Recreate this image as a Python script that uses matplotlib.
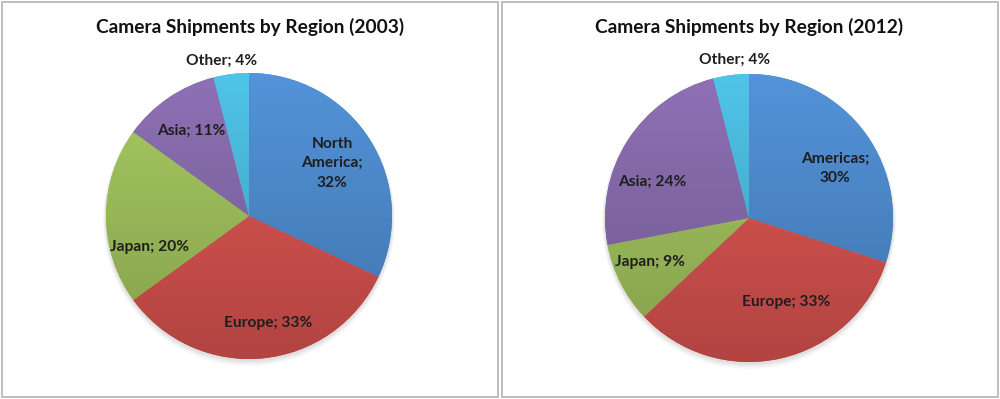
import matplotlib
matplotlib.use("Agg")
import matplotlib.pyplot as plt
import matplotlib.colors as mcolors
from matplotlib.patches import Rectangle
import numpy as np

plt.rcParams['font.family'] = ['Lato', 'DejaVu Sans']

# data
labels_2003 = ['North\nAmerica;\n32%', 'Europe; 33%', 'Japan; 20%', 'Asia; 11%', 'Other; 4%']
values_2003 = [32, 33, 20, 11, 4]
labels_2012 = ['Americas;\n30%', 'Europe; 33%', 'Japan; 9%', 'Asia; 24%', 'Other; 4%']
values_2012 = [30, 33, 9, 24, 4]
colors = ['#4a86c8', '#cf4f4c', '#9aba58', '#8166a6', '#46b4d6']

# label placement tweaks (angle offset in deg, radius fraction)
tweaks_2003 = [(0, 0.69), (5, 0.76), (17, 0.73), (0, 0.72), (3, 1.10)]
tweaks_2012 = [(-6, 0.69), (11, 0.64), (-3, 0.75), (12, 0.72), (-2, 1.10)]


def gradient_img(c):
    rgb = np.array(mcolors.to_rgb(c))
    top = np.clip(rgb * 1.06 + 0.02, 0, 1)
    bot = rgb * 0.86
    t = np.linspace(0, 1, 64)[:, None]
    img = top * (1 - t) + bot * t
    return img[:, None, :]


def draw_pie(ax, values, labels, tweaks, cx, cy, r, title, tx):
    total = float(sum(values))
    # faint shadow
    for k, a in enumerate([0.05, 0.04, 0.03]):
        ax.add_patch(plt.Circle((cx, cy - 2 - k), r + 1 + k, color='k', alpha=a, lw=0, zorder=1))
    wedges, _ = ax.pie(values, colors=colors, startangle=90, counterclock=False,
                       center=(cx, cy), radius=r, frame=True,
                       wedgeprops=dict(linewidth=0, zorder=2))
    for w, c in zip(wedges, colors):
        im = ax.imshow(gradient_img(c), extent=[cx - r, cx + r, cy - r, cy + r],
                       origin='upper', aspect='auto', zorder=3, interpolation='bilinear')
        im.set_clip_path(w)
    start = 90.0
    for v, lab, (da, rf) in zip(values, labels, tweaks):
        span = 360.0 * v / total
        mid = np.deg2rad(start - span / 2 + da)
        start -= span
        ax.text(cx + rf * r * np.cos(mid), cy + rf * r * np.sin(mid), lab,
                ha='center', va='center', fontsize=11.2, fontweight='bold',
                color='#1e1e1e', linespacing=1.5, zorder=5)
    ax.text(tx, 399 - 27, title, ha='center', va='center', fontsize=13.8,
            fontweight='bold', color='#111111', zorder=5)


fig = plt.figure(figsize=(10, 3.99), dpi=100)
ax = fig.add_axes([0, 0, 1, 1])

draw_pie(ax, values_2003, labels_2003, tweaks_2003, 249, 399 - 216, 143,
         'Camera Shipments by Region (2003)', 250)
draw_pie(ax, values_2012, labels_2012, tweaks_2012, 749, 399 - 218, 144,
         'Camera Shipments by Region (2012)', 749)

# panel frames
for x0, x1 in [(1.5, 497.5), (501.5, 997.5)]:
    ax.add_patch(Rectangle((x0, 2), x1 - x0, 395.5, fill=False, ec='#bdbdbd', lw=1.4, zorder=6))

ax.set_xlim(0, 1000)
ax.set_ylim(0, 399)
ax.set_aspect('equal')
ax.axis('off')

fig.savefig('out.png', dpi=100)
